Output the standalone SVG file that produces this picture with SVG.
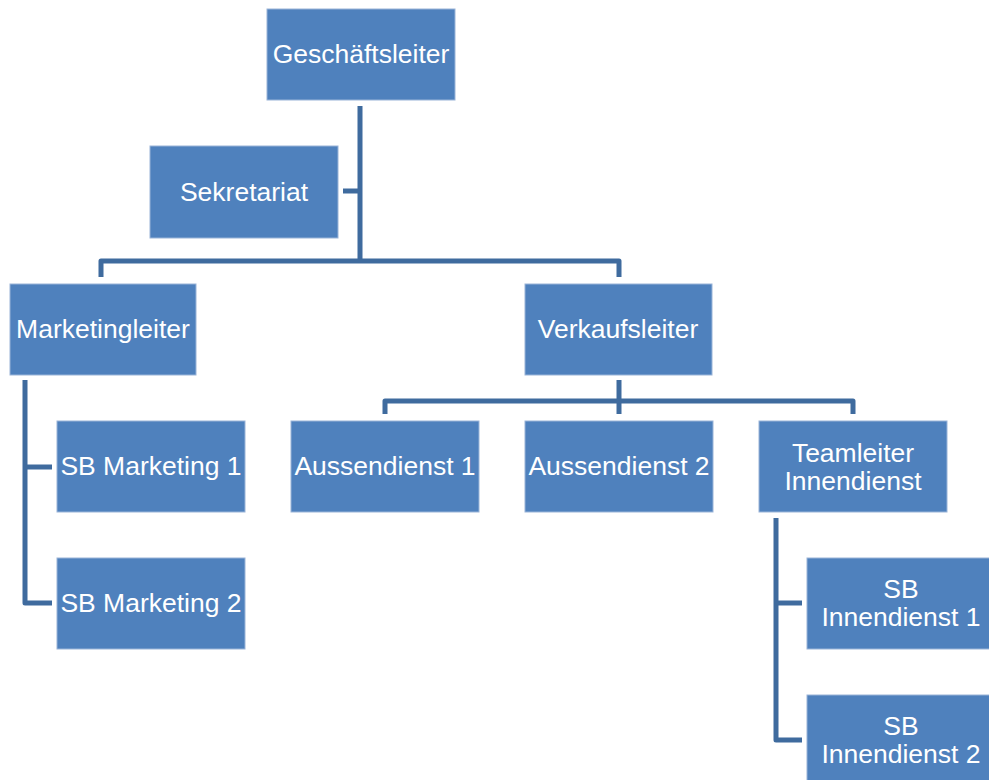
<svg xmlns="http://www.w3.org/2000/svg" width="989" height="780" viewBox="0 0 989 780">
<style>
.box{fill:#4F81BD;stroke:#9AB4D8;stroke-width:1}
.t{font-family:"Liberation Sans",Arial,sans-serif;font-size:26.5px;fill:#FFFFFF;text-anchor:middle}
.c{fill:none;stroke:#3F6B9E;stroke-width:5;stroke-linejoin:round}
</style>
<rect width="989" height="780" fill="#FFFFFF"/>
<g id="connectors">
<path class="c" d="M360,106 V261"/>
<path class="c" d="M343,191 H360"/>
<path class="c" d="M101,277 V261 H619 V277"/>
<path class="c" d="M25,380 V603 H52"/>
<path class="c" d="M25,467 H52"/>
<path class="c" d="M619,380 V414"/>
<path class="c" d="M385,414 V401 H853 V414"/>
<path class="c" d="M776,518 V740 H802"/>
<path class="c" d="M776,603 H802"/>
</g>
<g id="n-gl"><rect class="box" x="267" y="9" width="188" height="91"/><text class="t" x="361" y="63">Geschäftsleiter</text></g>
<g id="n-sek"><rect class="box" x="150" y="146" width="188" height="92"/><text class="t" x="244" y="201">Sekretariat</text></g>
<g id="n-ml"><rect class="box" x="10" y="284" width="186" height="91"/><text class="t" x="103" y="338">Marketingleiter</text></g>
<g id="n-vl"><rect class="box" x="525" y="284" width="187" height="91"/><text class="t" x="618" y="338">Verkaufsleiter</text></g>
<g id="n-sbm1"><rect class="box" x="57" y="421" width="188" height="91"/><text class="t" x="151" y="475">SB Marketing 1</text></g>
<g id="n-sbm2"><rect class="box" x="57" y="558" width="188" height="91"/><text class="t" x="151" y="612">SB Marketing 2</text></g>
<g id="n-ad1"><rect class="box" x="291" y="421" width="188" height="91"/><text class="t" x="385" y="475">Aussendienst 1</text></g>
<g id="n-ad2"><rect class="box" x="525" y="421" width="188" height="91"/><text class="t" x="619" y="475">Aussendienst 2</text></g>
<g id="n-tl"><rect class="box" x="759" y="421" width="188" height="91"/><text class="t" x="853" y="462">Teamleiter</text><text class="t" x="853" y="490">Innendienst</text></g>
<g id="n-sbi1"><rect class="box" x="807" y="558" width="188" height="91"/><text class="t" x="901" y="598">SB</text><text class="t" x="901" y="626">Innendienst 1</text></g>
<g id="n-sbi2"><rect class="box" x="807" y="695" width="188" height="91"/><text class="t" x="901" y="735">SB</text><text class="t" x="901" y="763">Innendienst 2</text></g>
</svg>
